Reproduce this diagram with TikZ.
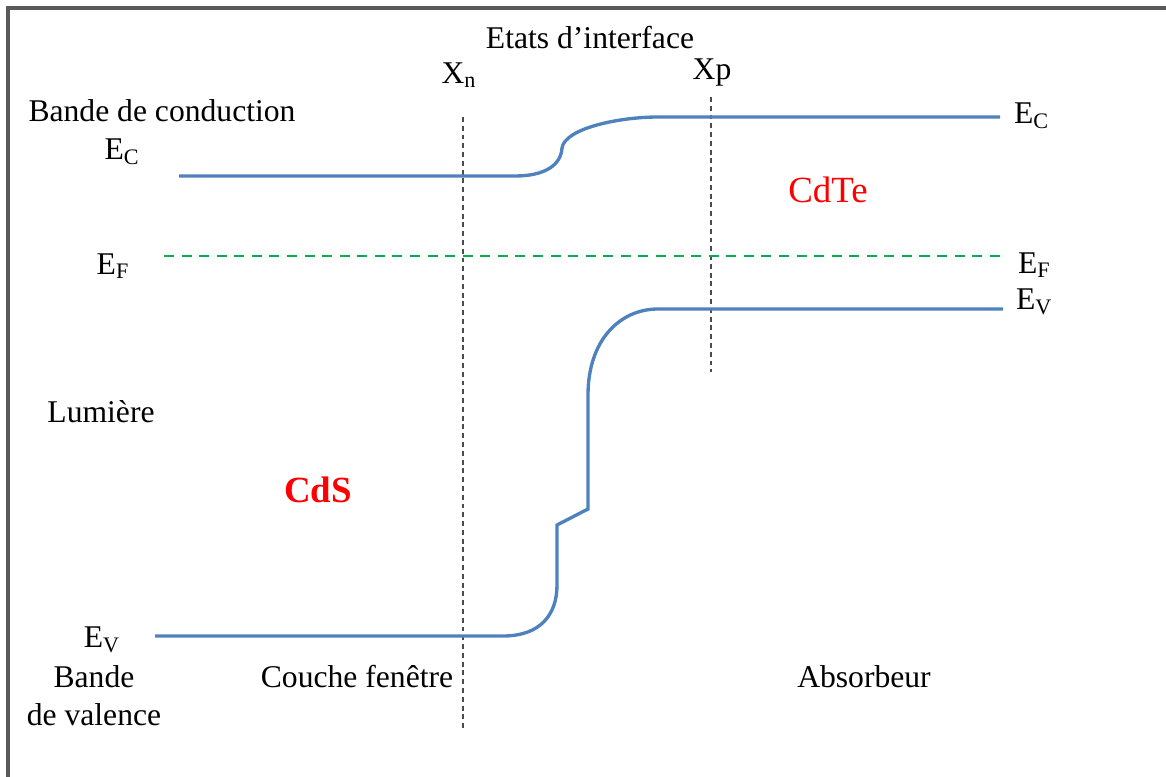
\documentclass[tikz,border=0pt]{standalone}
\usepackage{fontspec}
\setmainfont{Liberation Serif}
\definecolor{bandblue}{RGB}{79,129,189}
\definecolor{fermigreen}{RGB}{0,176,80}
\definecolor{framegray}{RGB}{90,90,90}
\newcommand{\lvl}[1]{E\textsubscript{#1}}

\begin{document}
\begin{tikzpicture}[x=0.02cm,y=-0.02cm,
  every node/.style={inner sep=1pt,font=\fontsize{18}{21.6}\selectfont},
  band/.style={bandblue,line width=1.9pt},
  fermi/.style={fermigreen,line width=1.3pt,dash pattern=on 5.7pt off 4.3pt},
  limit/.style={black!70,line width=1.6pt,dash pattern=on 2.8pt off 2.2pt},
  material/.style={red,font=\fontsize{21}{25}\selectfont}]
\useasboundingbox (0,0) rectangle (1166,777);
\draw[framegray,line width=2pt] (8,777) -- (8,8) -- (1166,8);
\draw[limit] (463,117) -- (463,728);
\draw[limit] (711,97) -- (711,372);
\draw[fermi] (164,256) -- (1006,256);
\draw[band] (179,176) -- (515,176) .. controls (545,176) and (561,165) .. (562,148)
  .. controls (565,128) and (620,117) .. (658,117) -- (1000,117);
\draw[band] (155,636) -- (503,636) .. controls (540,636) and (557,615) .. (557,585)
  -- (557,525) -- (588,509) -- (588,395) .. controls (588,340) and (620,309) .. (658,309)
  -- (1003,309);
\node (etats) at (590,38) {Etats d’interface};
\node (xn) at (459,75) {X\textsubscript{n}};
\node (xp) at (712,73) {Xp};
\node (conduction) at (162,111) {Bande de conduction};
\node (ecleft) at (122,152) {\lvl{C}};
\node[anchor=west] (ecright) at (1012,116) {\lvl{C}};
\node (efleft) at (113,266) {\lvl{F}};
\node[anchor=west] (efright) at (1016,265) {\lvl{F}};
\node[anchor=west] (evright) at (1014,302) {\lvl{V}};
\node (evleft) at (102,640) {\lvl{V}};
\node[material] (cdte) at (828,190) {CdTe};
\node[material,font=\fontsize{21}{25}\selectfont\bfseries] (cds) at (318,490) {CdS};
\node (lumiere) at (101,412) {Lumière};
\node[align=center] (valence) at (94,696) {Bande\\de valence};
\node (fenetre) at (357,677) {Couche fenêtre};
\node (absorbeur) at (864,677) {Absorbeur};
\end{tikzpicture}
\end{document}
